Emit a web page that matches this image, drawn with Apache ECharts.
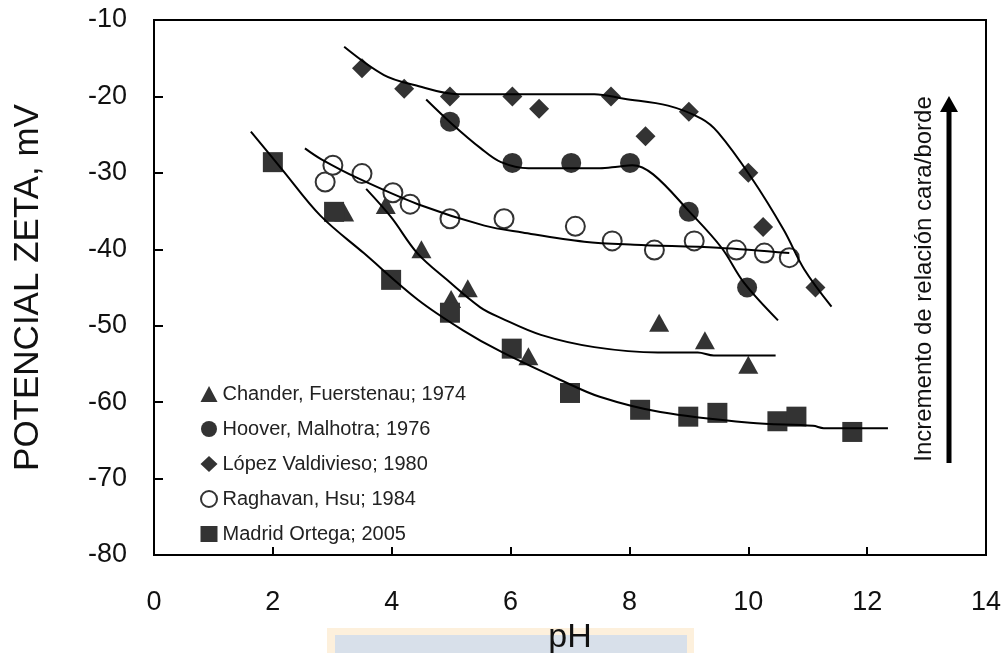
<!DOCTYPE html>
<html><head><meta charset="utf-8">
<script src="https://cdn.jsdelivr.net/npm/echarts@6/dist/echarts.min.js"></script>
<style>html,body{margin:0;padding:0;background:#fff}#c{width:1006px;height:653px}</style>
</head><body><div id="c"></div>
<script>
// Series names
const names = ['Chander, Fuerstenau; 1974','Hoover, Malhotra; 1976','López Valdivieso; 1980','Raghavan, Hsu; 1984','Madrid Ortega; 2005'];
// Measured points [pH, zeta mV]
const chander = [[3.2,-35.2],[3.9,-34.2],[4.5,-40.0],[5.0,-46.5],[5.28,-45.1],[6.3,-54.0],[8.5,-49.6],[9.27,-51.9],[10.0,-55.1]];
const hoover = [[4.98,-23.3],[6.03,-28.7],[7.02,-28.7],[8.01,-28.7],[9.0,-35.1],[9.98,-45.0]];
const lopez = [[3.5,-16.3],[4.21,-19.0],[4.98,-20.0],[6.03,-20.0],[6.48,-21.6],[7.69,-20.0],[8.27,-25.2],[9.0,-22.0],[10.0,-30.0],[10.25,-37.1],[11.13,-45.0]];
const raghavan = [[2.88,-31.2],[3.01,-29.0],[3.5,-30.1],[4.02,-32.6],[4.31,-34.1],[4.98,-36.0],[5.89,-36.0],[7.09,-37.0],[7.71,-38.9],[8.42,-40.1],[9.09,-38.9],[9.8,-40.1],[10.27,-40.5],[10.69,-41.1]];
const madrid = [[2.0,-28.6],[3.03,-35.1],[3.99,-44.0],[4.98,-48.3],[6.02,-53.0],[7.0,-58.8],[8.18,-61.0],[8.99,-61.9],[9.48,-61.4],[10.49,-62.5],[10.81,-61.9],[11.75,-63.9]];
// Fitted trend curves
const chanderFit = [[3.57,-32.1],[3.99,-35.8],[4.43,-40.5],[4.93,-44.0],[5.49,-47.6],[5.84,-49.0],[6.51,-51.2],[7.41,-52.8],[8.48,-53.5],[9.15,-53.5],[9.42,-53.9],[10.46,-53.9]];
const hooverFit = [[4.58,-20.4],[5.0,-23.5],[5.5,-26.8],[5.84,-28.6],[6.3,-29.4],[7.5,-29.4],[7.8,-29.2],[8.05,-29.0],[8.4,-30.2],[9.0,-35.0],[9.55,-39.8],[9.93,-44.4],[10.5,-49.3]];
const lopezFit = [[3.2,-13.5],[3.87,-17.2],[4.38,-18.5],[5.12,-19.7],[7.41,-19.7],[7.91,-20.3],[8.65,-21.2],[9.21,-22.9],[9.49,-24.7],[10.05,-30.6],[10.6,-37.5],[10.94,-42.6],[11.4,-47.5]];
const raghavanFit = [[2.54,-26.8],[2.81,-28.2],[3.43,-30.7],[4.44,-34.1],[5.56,-36.9],[6.2,-37.8],[7.24,-39.0],[8.08,-39.4],[9.49,-39.8],[10.69,-40.5]];
const madridFit = [[1.63,-24.6],[2.15,-29.5],[2.8,-35.6],[3.53,-40.5],[4.44,-46.6],[5.2,-50.6],[5.84,-53.4],[6.84,-57.1],[7.5,-59.3],[8.52,-61.3],[10.03,-62.7],[11.09,-63.1],[11.27,-63.4],[12.35,-63.4]];
// Axis texts
const xName = 'pH';
const yName = 'POTENCIAL ZETA, mV';
const sideNote = 'Incremento de relación cara/borde';

const F = 'Liberation Sans, Arial, sans-serif';
const ink = '#333';
const chart = echarts.init(document.getElementById('c'));
function sc(name, data, symbol, size, hollow) {
  return {type:'scatter', name, data, symbol, symbolSize:size, z:2,
    itemStyle: hollow ? {color:'#fff', borderColor:ink, borderWidth:2, opacity:1} : {color:ink, opacity:1}};
}
function ln(data) {
  return {type:'line', data, smooth:0.35, showSymbol:false, silent:true, z:3,
    lineStyle:{color:'#000', width:2}};
}
chart.setOption({
  backgroundColor:'#fff',
  animation:false,
  grid:{left:154, right:20, top:20, bottom:98, containLabel:false, outerBoundsMode:'none', show:true, borderColor:'#000', borderWidth:2},
  legend:{data:names, orient:'vertical', left:195, top:379, itemWidth:17, itemHeight:16, itemGap:15,
    textStyle:{fontFamily:F, fontSize:20, color:'#222', lineHeight:20}},
  xAxis:{type:'value', min:0, max:14, interval:2, name:xName, nameLocation:'middle', nameGap:64,
    nameTextStyle:{fontFamily:F, fontSize:34, color:'#111'},
    axisLine:{lineStyle:{color:'#000', width:2}}, splitLine:{show:false},
    axisTick:{inside:true, length:8, lineStyle:{color:'#000', width:2}},
    axisLabel:{margin:34, fontFamily:F, fontSize:27, color:'#111'}},
  yAxis:{type:'value', min:-80, max:-10, interval:10, name:yName, nameLocation:'middle', nameGap:108,
    nameTextStyle:{fontFamily:F, fontSize:35, color:'#111'},
    axisLine:{lineStyle:{color:'#000', width:2}}, splitLine:{show:false},
    axisTick:{inside:true, length:9, lineStyle:{color:'#000', width:2}},
    axisLabel:{margin:27, fontFamily:F, fontSize:27, color:'#111'}},
  graphic:[
    {type:'rect', z:-10, shape:{x:327, y:628, width:367, height:30}, style:{fill:'#fdf0dc'}},
    {type:'rect', z:-9, shape:{x:335, y:635, width:352, height:25}, style:{fill:'#d8e0ea'}},
    {type:'text', x:924, y:279, rotation:Math.PI/2, style:{text:sideNote, fontFamily:F, fontSize:24, fill:'#111', align:'center', verticalAlign:'middle'}},
    {type:'line', shape:{x1:949, y1:463, x2:949, y2:108}, style:{stroke:'#000', lineWidth:5}},
    {type:'polygon', shape:{points:[[949,96],[940,112],[958,112]]}, style:{fill:'#000'}}
  ],
  series:[
    sc(names[0], chander, 'triangle', [20,18], false),
    sc(names[1], hoover, 'circle', 20, false),
    sc(names[2], lopez, 'diamond', 20, false),
    sc(names[3], raghavan, 'circle', 19, true),
    sc(names[4], madrid, 'rect', 20, false),
    ln(chanderFit), ln(hooverFit), ln(lopezFit), ln(raghavanFit), ln(madridFit)
  ]
});
</script></body></html>
